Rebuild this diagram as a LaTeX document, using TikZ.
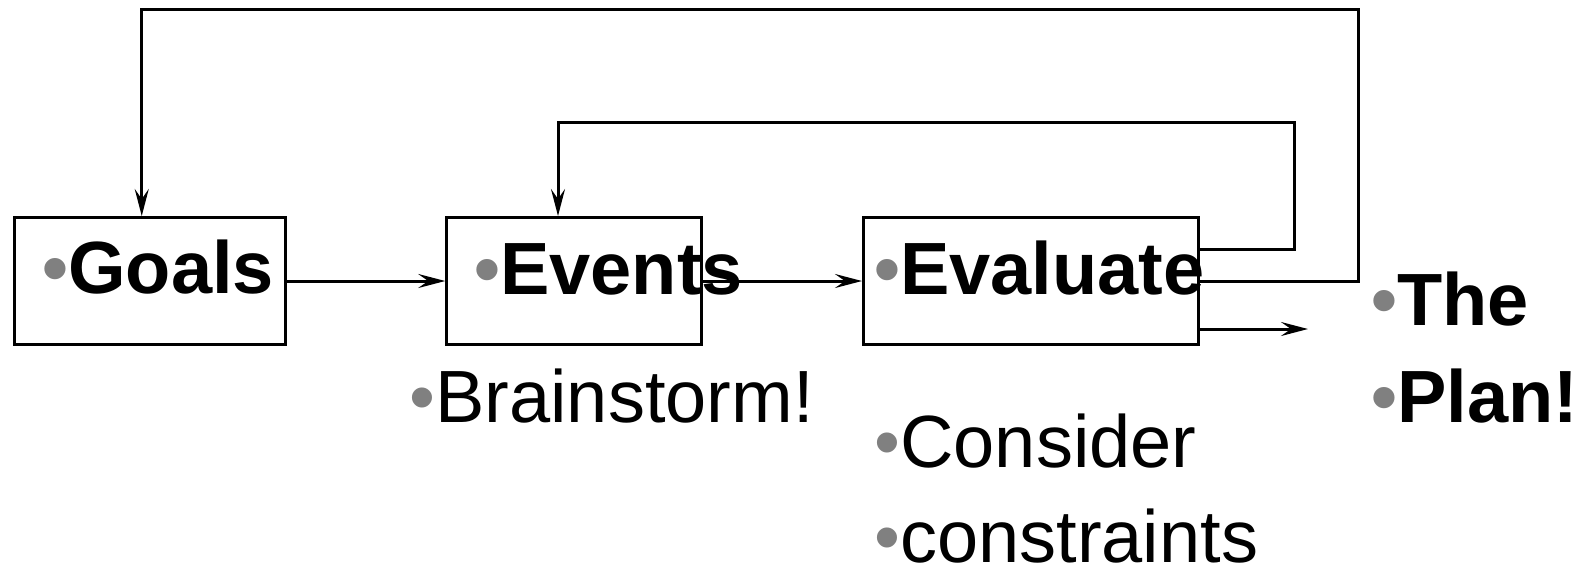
\documentclass[tikz,border=0pt]{standalone}
\usepackage{fontspec}
\setmainfont{Liberation Sans}
\usepackage{xcolor}
\usepackage{tikz}
\usetikzlibrary{arrows.meta,positioning}
\definecolor{bulletgray}{RGB}{128,128,128}
\newcommand{\blt}{{\color{bulletgray}\textbullet}}
\tikzstyle{stepbox} = [rectangle, draw=black, line width=1.5pt, minimum height=63.5pt, inner sep=0pt]
\tikzstyle{bigword} = [anchor=base west, inner sep=0pt, font=\fontsize{37}{40}\selectfont\bfseries]
\tikzstyle{note} = [anchor=base west, inner sep=0pt, font=\fontsize{37}{40}\selectfont]
\tikzstyle{arrow} = [line width=1.5pt, -{Stealth[length=13.5pt,width=7pt,inset=5pt]}]
\tikzstyle{line} = [line width=1.5pt]

\begin{document}
\begin{tikzpicture}[x=0.5pt,y=-0.5pt]
\useasboundingbox (0,0) rectangle (1578,569);
\node (goals) [stepbox, minimum width=135.25pt] at (149.75,281) {};
\node (events) [stepbox, minimum width=127.25pt] at (574,281) {};
\node (evaluate) [stepbox, minimum width=167.25pt] at (1030.75,281) {};

\node (goalsText) [bigword] at (42,293) {\blt Goals};
\node (eventsText) [bigword] at (474,294) {\blt Events};
\node (evalText) [bigword] at (874,294) {\blt Evaluate};
\node (brainText) [note] at (409,422) {\blt Brainstorm!};
\node (considerText) [note] at (874,467) {\blt Consider};
\node (constraintsText) [note, below=47.5pt of considerText.base west, anchor=base west] {\blt constraints};
\node (theText) [bigword] at (1371,325) {\blt The};
\node (planText) [bigword, below=48.5pt of theText.base west, anchor=base west] {\blt Plan!};

\coordinate (innerCorner) at (1294,122);
\coordinate (outerCorner) at (1358,9.5);
\coordinate (planOut) at (1308,329);

\draw [arrow] (goals) -- (events);
\draw [arrow] (events) -- (evaluate);
\draw [arrow] ([yshift=16pt]evaluate.east) -| (innerCorner) -| ([xshift=-8pt]events.north);
\draw [arrow] (evaluate.east) -| (outerCorner) -| ([xshift=-4pt]goals.north);
\draw [arrow] ([yshift=-24pt]evaluate.east) -- (planOut);
\end{tikzpicture}
\end{document}
